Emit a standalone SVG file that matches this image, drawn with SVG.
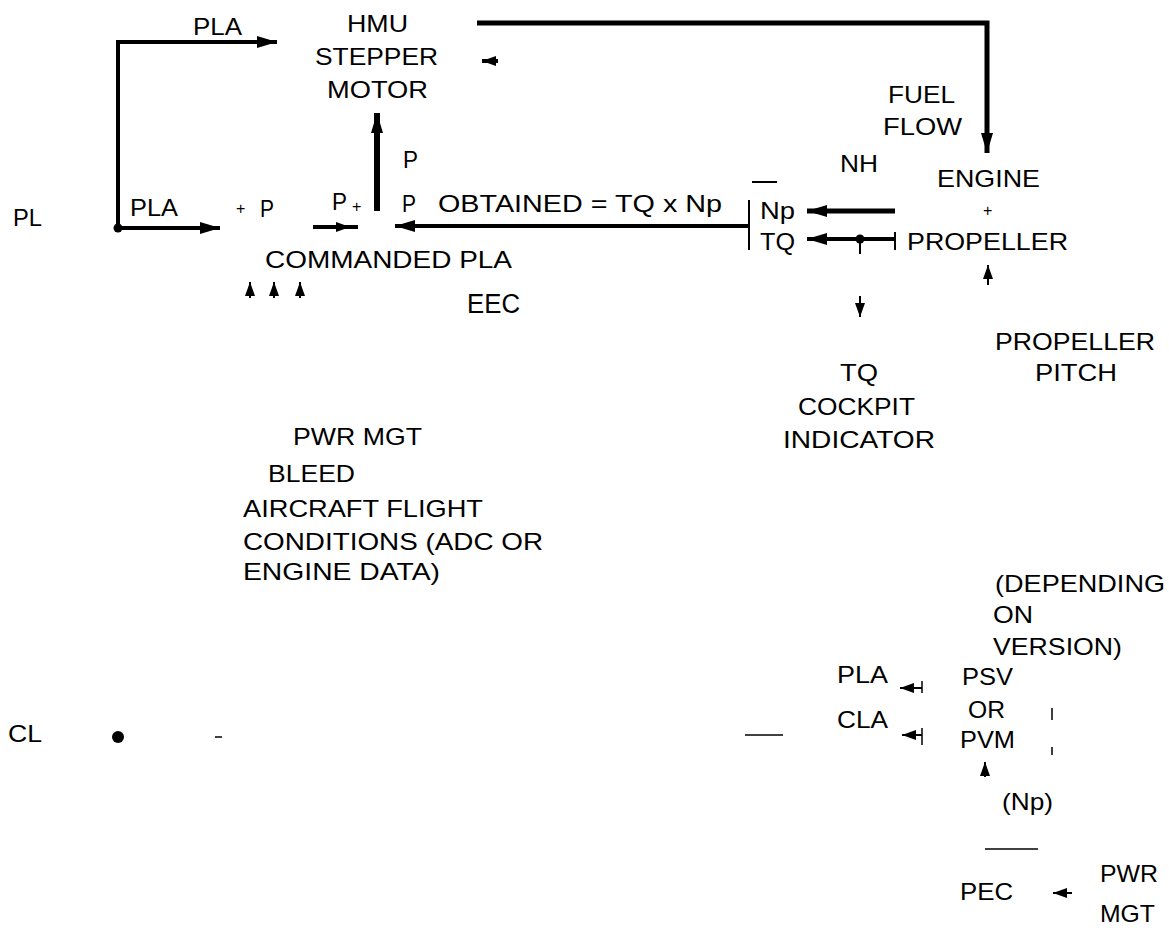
<svg xmlns="http://www.w3.org/2000/svg" width="1169" height="931" viewBox="0 0 1169 931">
<style>
text{font-family:"Liberation Sans",Arial,sans-serif;font-size:24px;fill:#000}
.sm{font-size:16px}
.ln{fill:none;stroke:#000;stroke-linecap:butt}
.w5{stroke-width:5}
.w4{stroke-width:4}
.w2{stroke-width:2}
.w1{stroke-width:1.5}
</style>
<defs>
<marker id="ah" markerUnits="userSpaceOnUse" markerWidth="20" markerHeight="12" refX="20" refY="6" orient="auto">
<path d="M0,0 L20,6 L0,12 z" fill="#000"/>
</marker>
<marker id="as" markerUnits="userSpaceOnUse" markerWidth="14" markerHeight="10" refX="14" refY="5" orient="auto">
<path d="M0,0 L14,5 L0,10 z" fill="#000"/>
</marker>
</defs>
<rect width="1169" height="931" fill="#fff"/>

<g id="connectors">
<path class="ln w4" d="M118,228 V42 H277" marker-end="url(#ah)"/>
<path class="ln w4" d="M118,228 H220" marker-end="url(#ah)"/>
<circle cx="118" cy="228" r="4.5" fill="#000"/>
<path class="ln w5" d="M477,23 H987 V153" marker-end="url(#ah)"/>
<path class="ln w4" d="M498,61 H482" marker-end="url(#as)"/>
<path class="ln" style="stroke-width:6" d="M377,211 V113" marker-end="url(#ah)"/>
<path class="ln w4" d="M313,227 H350" marker-end="url(#as)"/>
<path class="ln w4" d="M347,227 H358"/>
<path class="ln w4" d="M749,226 H395" marker-end="url(#ah)"/>
<path class="ln w2" d="M749,200 V250"/>
<path class="ln w2" d="M752,182 H777"/>
<path class="ln w5" d="M895,211 H807" marker-end="url(#ah)"/>
<path class="ln w4" d="M895,239 H807" marker-end="url(#ah)"/>
<path class="ln w2" d="M895,232 V250"/>
<circle cx="860" cy="239" r="4.5" fill="#000"/>
<path class="ln w2" d="M860,239 V254"/>
<path class="ln w2" d="M860,296 V317" marker-end="url(#as)"/>
<path class="ln w2" d="M988,285 V265" marker-end="url(#as)"/>
<path class="ln w2" d="M250,298 V282" marker-end="url(#as)"/>
<path class="ln w2" d="M274,298 V282" marker-end="url(#as)"/>
<path class="ln w2" d="M300,298 V282" marker-end="url(#as)"/>
<path class="ln w2" d="M985,777 V762" marker-end="url(#as)"/>
<path class="ln w2" d="M922,688 H900" marker-end="url(#as)"/>
<path class="ln w1" d="M922,681 V693"/>
<path class="ln w2" d="M922,735 H902" marker-end="url(#as)"/>
<path class="ln w1" d="M922,728 V745"/>
<path class="ln w2" d="M1072,893 H1053" marker-end="url(#as)"/>
<path class="ln w1" d="M745,735 H783"/>
<path class="ln w1" d="M985,849 H1038"/>
<path class="ln w1" d="M1052,708 V720 M1052,747 V755"/>
<path class="ln w1" d="M215,737 H222"/>
<circle cx="118" cy="737" r="6" fill="#000"/>
</g>

<g id="hmu">
<text x="347" y="32" textLength="61" lengthAdjust="spacingAndGlyphs">HMU</text>
<text x="315" y="65" textLength="123" lengthAdjust="spacingAndGlyphs">STEPPER</text>
<text x="327" y="98" textLength="101" lengthAdjust="spacingAndGlyphs">MOTOR</text>
</g>
<g id="pla-top"><text x="193" y="35" textLength="49" lengthAdjust="spacingAndGlyphs">PLA</text></g>
<g id="pl"><text x="13" y="226" textLength="29" lengthAdjust="spacingAndGlyphs">PL</text></g>
<g id="pla-mid"><text x="130" y="216" textLength="48" lengthAdjust="spacingAndGlyphs">PLA</text></g>
<g id="eec">
<text class="sm" x="236" y="214">+</text>
<text x="260" y="217" textLength="14" lengthAdjust="spacingAndGlyphs">P</text>
<text x="332" y="210" textLength="15" lengthAdjust="spacingAndGlyphs">P</text>
<text class="sm" x="352" y="212">+</text>
<text x="403" y="168" textLength="15" lengthAdjust="spacingAndGlyphs">P</text>
<text x="402" y="212" textLength="14" lengthAdjust="spacingAndGlyphs">P</text>
<text x="438" y="212" textLength="284" lengthAdjust="spacingAndGlyphs">OBTAINED = TQ x Np</text>
<text x="265" y="268" textLength="247" lengthAdjust="spacingAndGlyphs">COMMANDED PLA</text>
<text x="467" y="313" style="font-size:27px" textLength="53" lengthAdjust="spacingAndGlyphs">EEC</text>
</g>
<g id="fuel-flow">
<text x="888" y="103" textLength="67" lengthAdjust="spacingAndGlyphs">FUEL</text>
<text x="883" y="135" textLength="79" lengthAdjust="spacingAndGlyphs">FLOW</text>
</g>
<g id="nh"><text x="840" y="172" textLength="38" lengthAdjust="spacingAndGlyphs">NH</text></g>
<g id="engine">
<text x="937" y="187" textLength="103" lengthAdjust="spacingAndGlyphs">ENGINE</text>
<text class="sm" x="983" y="216">+</text>
<text x="907" y="250" textLength="161" lengthAdjust="spacingAndGlyphs">PROPELLER</text>
</g>
<g id="np-tq">
<text x="760" y="219" textLength="35" lengthAdjust="spacingAndGlyphs">Np</text>
<text x="760" y="250" textLength="35" lengthAdjust="spacingAndGlyphs">TQ</text>
</g>
<g id="tq-indicator">
<text x="840" y="381" textLength="38" lengthAdjust="spacingAndGlyphs">TQ</text>
<text x="798" y="415" textLength="117" lengthAdjust="spacingAndGlyphs">COCKPIT</text>
<text x="783" y="448" textLength="152" lengthAdjust="spacingAndGlyphs">INDICATOR</text>
</g>
<g id="propeller-pitch">
<text x="995" y="350" textLength="160" lengthAdjust="spacingAndGlyphs">PROPELLER</text>
<text x="1035" y="381" textLength="82" lengthAdjust="spacingAndGlyphs">PITCH</text>
</g>
<g id="inputs">
<text x="293" y="445" textLength="129" lengthAdjust="spacingAndGlyphs">PWR MGT</text>
<text x="268" y="482" textLength="87" lengthAdjust="spacingAndGlyphs">BLEED</text>
<text x="243" y="517" textLength="240" lengthAdjust="spacingAndGlyphs">AIRCRAFT FLIGHT</text>
<text x="243" y="550" textLength="300" lengthAdjust="spacingAndGlyphs">CONDITIONS (ADC OR</text>
<text x="243" y="580" textLength="197" lengthAdjust="spacingAndGlyphs">ENGINE DATA)</text>
</g>
<g id="cl"><text x="8" y="742" textLength="34" lengthAdjust="spacingAndGlyphs">CL</text></g>
<g id="depending">
<text x="995" y="592" textLength="170" lengthAdjust="spacingAndGlyphs">(DEPENDING</text>
<text x="993" y="623" textLength="40" lengthAdjust="spacingAndGlyphs">ON</text>
<text x="993" y="655" textLength="129" lengthAdjust="spacingAndGlyphs">VERSION)</text>
</g>
<g id="pla-cla">
<text x="837" y="683" textLength="51" lengthAdjust="spacingAndGlyphs">PLA</text>
<text x="837" y="728" textLength="51" lengthAdjust="spacingAndGlyphs">CLA</text>
</g>
<g id="psv-pvm">
<text x="962" y="685" textLength="51" lengthAdjust="spacingAndGlyphs">PSV</text>
<text x="968" y="718" textLength="37" lengthAdjust="spacingAndGlyphs">OR</text>
<text x="960" y="748" textLength="55" lengthAdjust="spacingAndGlyphs">PVM</text>
</g>
<g id="np-label"><text x="1002" y="810" textLength="51" lengthAdjust="spacingAndGlyphs">(Np)</text></g>
<g id="pec"><text x="960" y="900" textLength="53" lengthAdjust="spacingAndGlyphs">PEC</text></g>
<g id="pwr-mgt">
<text x="1100" y="882" textLength="58" lengthAdjust="spacingAndGlyphs">PWR</text>
<text x="1100" y="922" textLength="55" lengthAdjust="spacingAndGlyphs">MGT</text>
</g>
</svg>
